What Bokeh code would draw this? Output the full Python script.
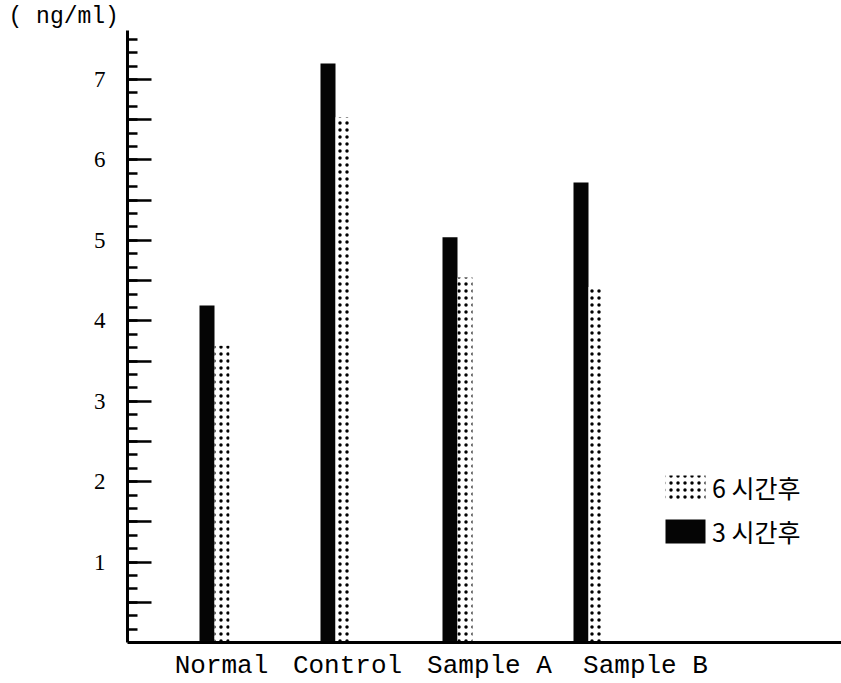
from bokeh.plotting import figure
from bokeh.models import (Range1d, FixedTicker, CustomJSTickFormatter, Legend, LegendItem)
from bokeh.embed import file_html
from bokeh.resources import INLINE

# ---- data ----
categories = ["Normal", "Control", "Sample A", "Sample B"]
after_3h = [4.19, 7.20, 5.04, 5.72]   # black bars (3시간후)
after_6h = [3.69, 6.53, 4.54, 4.42]   # dotted bars (6시간후)
y_unit = "( ng/ml)"
legend_labels = ["6 시간후", "3 시간후"]

# ---- layout (positions in axis units, 1 unit = 100 px) ----
group_x = [0.87, 2.08, 3.30, 4.61]
label_x = [0.94, 2.20, 3.62, 5.18]
bar_w = 0.15

black_x = [g - bar_w / 2 for g in group_x]
dot_x = [g + bar_w / 2 for g in group_x]

p = figure(frame_width=714, frame_height=612, output_backend="svg", toolbar_location=None,
           x_range=Range1d(0, 7.14), y_range=Range1d(0, 7.61),
           min_border_left=127, min_border_top=0, min_border_right=0, min_border_bottom=30,
           title=y_unit)
p.outline_line_color = None
p.xgrid.visible = False
p.ygrid.visible = False
p.background_fill_color = "white"
p.border_fill_color = "white"

p.title.align = "left"
p.title.offset = -119
p.title.standoff = 2
p.title.text_font = "Liberation Mono"
p.title.text_font_size = "23px"
p.title.text_font_style = "normal"
p.title.text_color = "black"

r_black = p.vbar(x=black_x, top=after_3h, width=bar_w, bottom=0,
                 fill_color="#050505", line_color=None)
r_dot = p.vbar(x=dot_x, top=after_6h, width=bar_w, bottom=0,
               fill_color="white", line_color=None,
               hatch_pattern=".", hatch_color="black", hatch_scale=7, hatch_weight=3.5)

# y axis
major = [k * 0.5 for k in range(1, 15)]
minor = [k / 6 for k in range(1, 46)]
ya = p.yaxis[0]
ya.ticker = FixedTicker(ticks=major, minor_ticks=minor)
ya.formatter = CustomJSTickFormatter(code="return Number.isInteger(tick) ? tick.toString() : ''")
ya.axis_line_width = 3
ya.axis_line_color = "black"
ya.major_tick_in = 24
ya.major_tick_out = 0
ya.minor_tick_in = 10
ya.minor_tick_out = 0
ya.major_tick_line_width = 2.5
ya.minor_tick_line_width = 2.5
ya.major_tick_line_color = "black"
ya.minor_tick_line_color = "black"
ya.major_label_text_font = "Liberation Serif"
ya.major_label_text_font_size = "23px"
ya.major_label_text_color = "black"
ya.major_label_standoff = 22

# x axis
xa = p.xaxis[0]
xa.ticker = FixedTicker(ticks=label_x)
xa.major_label_overrides = {label_x[i]: categories[i] for i in range(len(categories))}
xa.axis_line_width = 3
xa.axis_line_color = "black"
xa.major_tick_line_color = None
xa.minor_tick_line_color = None
xa.major_tick_in = 0
xa.major_tick_out = 0
xa.major_label_text_font = "Liberation Mono"
xa.major_label_text_font_size = "26px"
xa.major_label_text_color = "black"
xa.major_label_standoff = 8

legend = Legend(items=[LegendItem(label=legend_labels[0], renderers=[r_dot]),
                       LegendItem(label=legend_labels[1], renderers=[r_black])],
                location=(533, 93), padding=0, margin=0, spacing=8,
                glyph_width=50, glyph_height=30, label_standoff=2,
                label_text_font="Noto Sans CJK KR", label_text_font_size="25px",
                label_text_color="black",
                border_line_color=None, background_fill_alpha=0)
p.add_layout(legend, "center")

open("out.html", "w").write(file_html(p, INLINE))
